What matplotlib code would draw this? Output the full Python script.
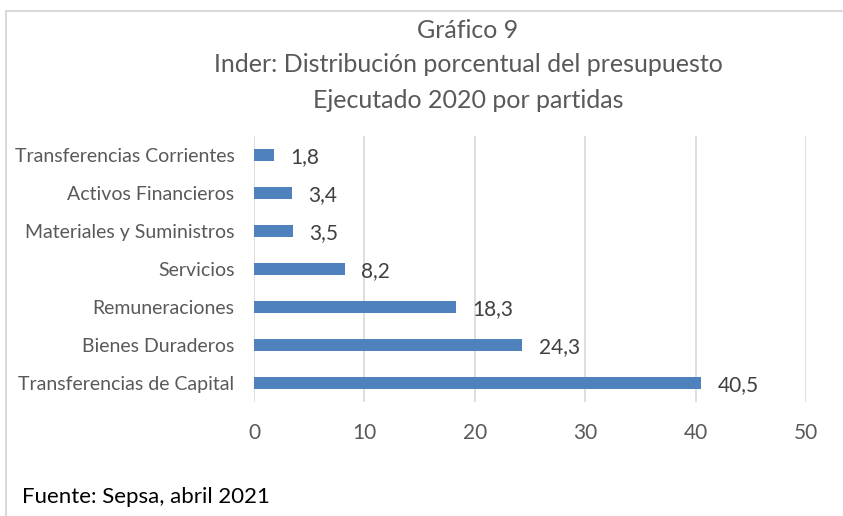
import matplotlib
matplotlib.use("Agg")
import matplotlib.pyplot as plt
from matplotlib.patches import Rectangle

plt.rcParams['font.family'] = ['Lato', 'DejaVu Sans']

partidas = ["Transferencias de Capital", "Bienes Duraderos", "Remuneraciones",
            "Servicios", "Materiales y Suministros", "Activos Financieros",
            "Transferencias Corrientes"]
valores = [40.5, 24.3, 18.3, 8.2, 3.5, 3.4, 1.8]
ticks_x = [0, 10, 20, 30, 40, 50]
titulo = ["Gráfico 9",
          "Inder: Distribución porcentual del presupuesto",
          "Ejecutado 2020 por partidas"]

fig = plt.figure(figsize=(8.43, 5.16), dpi=100)
ax = fig.add_axes([254 / 843, 114 / 516, 552 / 843, 266 / 516])

pos = list(range(len(partidas)))
ax.barh(pos, valores, height=0.33, color="#4F81BD", zorder=3)
for p, v in zip(pos, valores):
    ax.annotate(("%.1f" % v).replace(".", ","), xy=(v, p), xytext=(12, -1.5),
                textcoords="offset points", ha="left", va="center",
                fontsize=15, color="#404040")

ax.set_xlim(0, 50)
ax.set_ylim(-0.5, len(partidas) - 0.5)
ax.set_xticks(ticks_x)
ax.set_yticks(pos)
ax.set_yticklabels(partidas)
ax.tick_params(axis="y", length=0, pad=14, labelsize=14, labelcolor="#595959")
ax.tick_params(axis="x", length=0, pad=15, labelsize=15, labelcolor="#595959")
ax.grid(axis="x", color="#D9D9D9", linewidth=1.2, zorder=0)
for s in ax.spines.values():
    s.set_visible(False)

for i, linea in enumerate(titulo):
    fig.text(468 / 843, 1 - (30 + 35 * i) / 516, linea, ha="center", va="center",
             fontsize=18, color="#595959")

# marco del gráfico (recortado)
fig.patches.append(Rectangle((6 / 843, -0.1), 1.0, (516 - 11) / 516 + 0.1,
                             transform=fig.transFigure, fill=False,
                             edgecolor="#D9D9D9", linewidth=1.5))

fig.text(22 / 843, 1 - 497 / 516, "Fuente: Sepsa, abril 2021", ha="left", va="center",
         fontsize=16, color="black")

fig.savefig("out.png", dpi=100)
